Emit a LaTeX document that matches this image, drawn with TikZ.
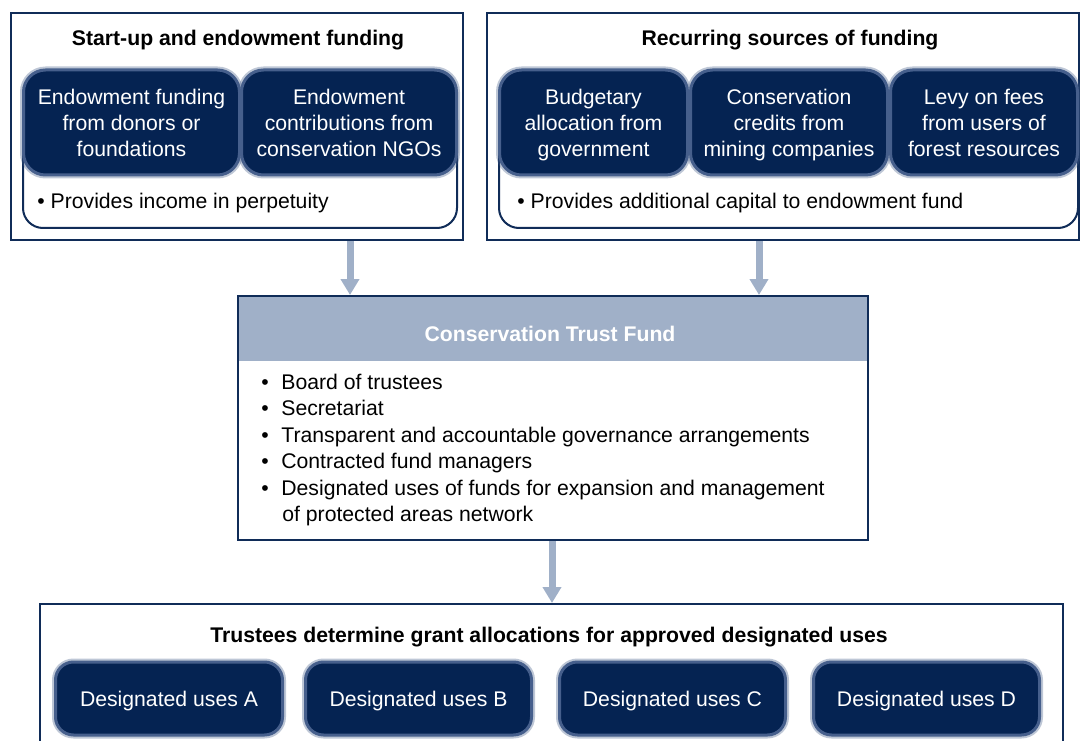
\documentclass[tikz,border=0pt]{standalone}
\usepackage{fontspec}
\setmainfont{Liberation Sans}
\usetikzlibrary{arrows.meta}

\definecolor{framenavy}{RGB}{16,44,88}
\definecolor{boxnavy}{RGB}{5,35,82}
\definecolor{boxglow}{RGB}{70,95,140}
\definecolor{headblue}{RGB}{160,176,200}
\newcommand{\ctftext}{\fontsize{21.2}{26}\selectfont}

\tikzset{every picture/.style={line width=0.75pt}}
\tikzset{
  frame/.style={draw=framenavy, line width=2.2pt, inner sep=0pt},
  panel/.style={draw=framenavy, line width=2pt, rounded corners=20pt, fill=white, inner sep=0pt},
  darkbox/.style={fill=boxnavy, draw=boxglow, line width=3pt, rounded corners=22pt,
    preaction={draw=boxglow, draw opacity=0.35, line width=7pt}, text=white, align=center,
    inner sep=0pt, font=\ctftext, text depth=0pt},
  title/.style={font=\ctftext\bfseries, inner sep=0pt},
  bullettext/.style={anchor=base west, font=\ctftext, inner sep=0pt},
  flowarrow/.style={draw=headblue, line width=7pt, -{Triangle[width=18pt,length=16pt]}}
}

\begin{document}
\begin{tikzpicture}[x=1pt,y=1pt,yscale=-1,xscale=1]
\useasboundingbox (0,0) rectangle (1080,741);

%Start-up frame
\node (leftframe) at (237,126.5) [frame, fill=white, minimum width=452pt, minimum height=227pt] {};
\node (lefttitle) at (238,40) [title] {Start-up and endowment funding};
\node (leftpanel) at (240,164) [panel, minimum width=434pt, minimum height=128pt] {};
\node (donors) at (131.5,122.5) [darkbox, minimum width=216pt, minimum height=105pt] {Endowment funding\\from donors or\\foundations};
\node (ngos) at (349,122.5) [darkbox, minimum width=215pt, minimum height=105pt] {Endowment\\contributions from\\conservation NGOs};
% Text Node
\node (leftnote) at (37,209) [bullettext] {• Provides income in perpetuity};

%Recurring frame
\node (rightframe) at (783,126.5) [frame, fill=white, minimum width=592pt, minimum height=227pt] {};
\node (righttitle) at (790,40) [title] {Recurring sources of funding};
\node (rightpanel) at (788.5,164) [panel, minimum width=579pt, minimum height=128pt] {};
\node (govt) at (593.5,122.5) [darkbox, minimum width=188pt, minimum height=105pt] {Budgetary\\allocation from\\government};
\node (mining) at (789,122.5) [darkbox, minimum width=197pt, minimum height=105pt] {Conservation\\credits from\\mining companies};
\node (levy) at (984,122.5) [darkbox, minimum width=187pt, minimum height=105pt] {Levy on fees\\from users of\\forest resources};
% Text Node
\node (rightnote) at (517,209) [bullettext] {• Provides additional capital to endowment fund};

%Conservation Trust Fund
\node (ctfhead) at (553,328.5) [fill=headblue, minimum width=630pt, minimum height=65pt, inner sep=0pt] {};
\node (ctftitle) at (550,334) [title, text=white] {Conservation Trust Fund};
\node (ctf) at (553,418) [frame, line width=2.6pt, minimum width=630pt, minimum height=244pt] {};
% Text Node
\node (board) at (261,389) [bullettext] {\makebox[20pt][l]{•}Board of trustees};
\node (secretariat) at (261,415.5) [bullettext] {\makebox[20pt][l]{•}Secretariat};
\node (governance) at (261,442) [bullettext] {\makebox[20pt][l]{•}Transparent and accountable governance arrangements};
\node (managers) at (261,468.5) [bullettext] {\makebox[20pt][l]{•}Contracted fund managers};
\node (uses) at (261,495) [bullettext] {\makebox[20pt][l]{•}Designated uses of funds for expansion and management};
\node (network) at (261,521.5) [bullettext] {\makebox[21pt][l]{}of protected areas network};

%Grant allocations
\node (grantframe) at (551.5,684) [frame, fill=white, minimum width=1023pt, minimum height=160pt] {};
\node (granttitle) at (549,637) [title] {Trustees determine grant allocations for approved designated uses};
\node (usesA) at (169,698.5) [darkbox, minimum width=227pt, minimum height=73pt, rounded corners=18pt] {Designated uses A};
\node (usesB) at (418.5,698.5) [darkbox, minimum width=226pt, minimum height=73pt, rounded corners=18pt] {Designated uses B};
\node (usesC) at (672.5,698.5) [darkbox, minimum width=226pt, minimum height=73pt, rounded corners=18pt] {Designated uses C};
\node (usesD) at (926.5,698.5) [darkbox, minimum width=226pt, minimum height=73pt, rounded corners=18pt] {Designated uses D};

%Arrows
\coordinate (inL) at (350,295);
\coordinate (inR) at (759,295);
\coordinate (inG) at (552,603);
\draw [flowarrow] (leftframe.south -| inL) -- (inL);
\draw [flowarrow] (rightframe.south -| inR) -- (inR);
\draw [flowarrow] (ctf.south -| inG) -- (inG);

\end{tikzpicture}
\end{document}
